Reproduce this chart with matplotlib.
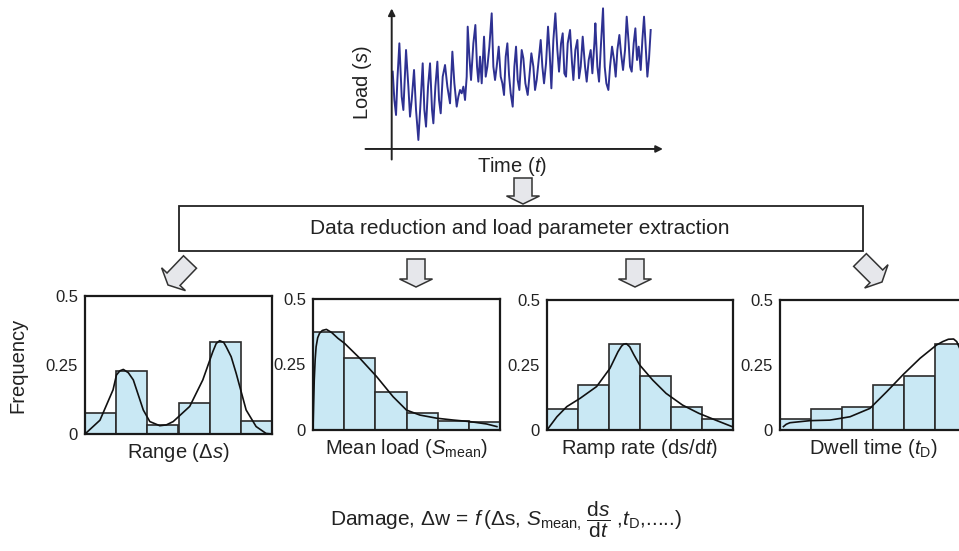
import numpy as np
import matplotlib.pyplot as plt
from matplotlib.patches import FancyArrow, Rectangle

plt.rcParams['font.family'] = ['Liberation Sans', 'DejaVu Sans']
plt.rcParams['mathtext.fontset'] = 'custom'
plt.rcParams['mathtext.rm'] = 'Liberation Sans'
plt.rcParams['mathtext.it'] = 'Liberation Sans:italic'
plt.rcParams['mathtext.bf'] = 'Liberation Sans:bold'

W, H = 959, 551

# load history (arbitrary units)
time = [3, 8, 13, 17, 23, 30, 35, 43, 50, 55, 60, 67, 73, 80, 87, 93, 98, 103, 109, 115,
        121, 125, 131, 137, 142, 147, 153, 160, 167, 175, 182, 188, 195, 200, 205, 210, 215,
        220, 225, 228, 233, 238, 245, 251, 256, 260, 265, 270, 277, 282, 287, 293, 300, 305,
        310, 315, 321, 327, 332, 337, 342, 347, 352, 357, 363, 368, 373, 378, 383, 390, 395,
        401, 408, 413, 419, 425, 430, 435, 441, 447, 452, 457, 463, 469, 474, 479, 485, 491,
        497, 502, 508, 513, 518, 523, 528, 535, 541, 545, 551, 557, 562, 567, 573, 580, 585,
        591, 597, 602, 608, 611, 617, 622, 628, 634, 639, 644, 650, 655, 661, 667, 672, 677,
        683, 688, 694, 700, 705, 711, 715, 720, 726, 731, 736, 741, 747, 752, 757, 762, 767,
        772, 777]
load = [232, 147, 102, 207, 317, 157, 117, 297, 187, 97, 147, 237, 117, 27, 147, 257, 117,
        67, 187, 257, 117, 77, 187, 262, 147, 107, 217, 252, 187, 137, 292, 197, 127, 157,
        177, 167, 187, 147, 217, 367, 277, 207, 317, 372, 247, 202, 277, 197, 337, 217, 247,
        307, 407, 247, 207, 247, 307, 217, 197, 162, 277, 317, 222, 167, 127, 247, 307, 207,
        177, 297, 272, 197, 162, 217, 287, 247, 177, 207, 267, 327, 247, 197, 257, 367, 287,
        182, 327, 407, 297, 232, 317, 347, 227, 217, 317, 357, 257, 207, 297, 327, 212, 247,
        337, 247, 202, 267, 297, 227, 317, 377, 247, 202, 317, 422, 247, 197, 177, 247, 307,
        267, 217, 297, 342, 287, 237, 297, 397, 317, 247, 232, 317, 362, 267, 307, 237, 327,
        397, 307, 217, 272, 357]

# histogram panels (6 bins each) and their fitted curves
labels = ['Range (Δ$s$)', 'Mean load ($S_{\\mathrm{mean}}$)',
          'Ramp rate (d$s$/d$t$)', 'Dwell time ($t_{\\mathrm{D}}$)']
bars = [
    [0.077, 0.229, 0.033, 0.111, 0.335, 0.046],
    [0.375, 0.275, 0.144, 0.066, 0.036, 0.031],
    [0.079, 0.174, 0.332, 0.209, 0.090, 0.041],
    [0.041, 0.081, 0.090, 0.174, 0.209, 0.332],
]
curve_x = [
    [0, 0.48, 0.9, 1.01, 1.12, 1.23, 1.39, 1.55, 1.87, 2.08, 2.4, 2.61, 2.83, 3.36, 3.78, 4.1,
     4.21, 4.32, 4.45, 4.53, 4.69, 4.85, 5.17, 5.49, 5.81, 6.0],
    [0.0, 0.02, 0.04, 0.07, 0.1, 0.15, 0.21, 0.3, 0.43, 0.6, 0.8, 1.02, 1.5, 2.04, 2.57, 3.0,
     3.43, 3.97, 4.5, 5.04, 5.57, 5.9],
    [0, 0.32, 0.64, 1.07, 1.6, 2.03, 2.29, 2.4, 2.47, 2.56, 2.67, 2.8, 2.99, 3.41, 3.84, 4.37,
     4.9, 5.44, 5.97],
    [0.11, 0.2, 0.32, 0.97, 1.61, 2.26, 2.9, 3.44, 3.98, 4.52, 5.05, 5.25, 5.43, 5.6, 5.7, 5.85],
]
curve_y = [
    [0, 0.05, 0.16, 0.214, 0.229, 0.234, 0.222, 0.196, 0.087, 0.045, 0.03, 0.033, 0.045, 0.1,
     0.196, 0.298, 0.328, 0.338, 0.332, 0.316, 0.28, 0.22, 0.087, 0.027, 0.002, 0.0],
    [0.0, 0.1, 0.19, 0.27, 0.318, 0.352, 0.369, 0.38, 0.384, 0.372, 0.35, 0.33, 0.274, 0.204,
     0.127, 0.076, 0.057, 0.045, 0.038, 0.032, 0.023, 0.013],
    [0, 0.051, 0.09, 0.122, 0.167, 0.237, 0.301, 0.322, 0.33, 0.332, 0.32, 0.29, 0.25, 0.192,
     0.141, 0.096, 0.064, 0.038, 0.013],
    [0.013, 0.022, 0.028, 0.036, 0.038, 0.051, 0.083, 0.147, 0.214, 0.276, 0.327, 0.34, 0.349,
     0.35, 0.34, 0.3],
]
# panel boxes in pixels: left, top, right, bottom
boxes = [(85, 296, 272, 434), (313, 299, 500, 430), (547, 300, 733, 430), (780, 300, 966, 430)]


def px_axes(fig, x0, y0, x1, y1, **kw):
    return fig.add_axes([x0 / W, 1 - y1 / H, (x1 - x0) / W, (y1 - y0) / H], **kw)


fig = plt.figure(figsize=(W / 100, H / 100), dpi=100)

# overlay in pixel coordinates for box, block arrows and formula
ov = fig.add_axes([0, 0, 1, 1])
ov.set_xlim(0, W)
ov.set_ylim(H, 0)
ov.axis('off')

ov.add_patch(Rectangle((179, 206), 684, 45, fill=False, ec='#222222', lw=1.3))
ov.text(520, 229, 'Data reduction and load parameter extraction', fontsize=15,
        ha='center', va='center', color='#222222')

arrow_kw = dict(width=18, head_width=33, head_length=8, length_includes_head=True,
                fc='#e6e7eb', ec='#333333', lw=1.1)
ov.add_patch(FancyArrow(523, 178, 0, 26, **arrow_kw))
ov.add_patch(FancyArrow(416, 259, 0, 28, **arrow_kw))
ov.add_patch(FancyArrow(635, 259, 0, 28, **arrow_kw))
ov.add_patch(FancyArrow(190, 262, -22, 23, **arrow_kw))
ov.add_patch(FancyArrow(860, 260, 22, 22, **arrow_kw))

ov.text(506, 520, 'Damage, Δw$\\,=\\,f\\,$(Δs, $S_{\\mathrm{mean,}}\\,\\dfrac{\\mathrm{d}s}{\\mathrm{d}t}$ ,'
        '$t_{\\mathrm{D}}$,.....)', fontsize=15, ha='center', va='center', color='#222222')

# load history
ts = fig.add_axes([361.7 / W, 1 - 162.3 / H, 305 / W, 157.3 / H])
ts.set_xlim(-90, 825)
ts.set_ylim(-40, 432)
ts.axis('off')
ts.plot(time, load, color='#2e3192', lw=1.4)
ts.annotate('', xy=(0, 430), xytext=(0, -40),
            arrowprops=dict(arrowstyle='-|>', color='#222222', lw=1.4, mutation_scale=10))
ts.annotate('', xy=(822, 0), xytext=(-87, 0),
            arrowprops=dict(arrowstyle='-|>', color='#222222', lw=1.4, mutation_scale=10))
ov.text(363, 83, 'Load ($s$)', fontsize=14.5, rotation=90, ha='center', va='center',
        color='#222222')
ov.text(512, 167, 'Time ($t$)', fontsize=14.5, ha='center', va='center', color='#222222')

# histogram panels
for i in range(4):
    ax = px_axes(fig, *boxes[i])
    ax.bar(np.arange(6) + 0.5, bars[i], width=1.0, color='#c9e8f4', edgecolor='#2b2b2b',
           lw=1.2, zorder=2)
    ax.plot(curve_x[i], curve_y[i], color='#111111', lw=1.2, zorder=3)
    ax.set_xlim(0, 6)
    ax.set_ylim(0, 0.5)
    ax.set_xticks([])
    ax.set_yticks([0, 0.25, 0.5])
    ax.set_yticklabels(['0', '0.25', '0.5'])
    ax.tick_params(axis='y', length=0, pad=5, labelsize=12, colors='#222222')
    for s in ax.spines.values():
        s.set_linewidth(1.6)
        s.set_color('#1a1a1a')
    ax.set_xlabel(labels[i], fontsize=14.5, labelpad=5, color='#222222')
    if i == 0:
        ax.set_ylabel('Frequency', fontsize=14.5, labelpad=13, color='#222222')

fig.savefig('out.png', dpi=100)
